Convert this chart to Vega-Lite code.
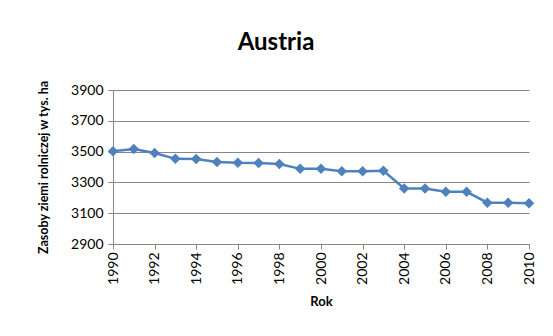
{
  "$schema": "https://vega.github.io/schema/vega-lite/v6.json",
  "autosize": "none",
  "width": 416,
  "height": 154,
  "padding": {"left": 113, "top": 90, "right": 24, "bottom": 92},
  "background": "white",
  "title": {
    "text": "Austria",
    "font": "Lato",
    "fontSize": 24,
    "fontWeight": "bold",
    "color": "black",
    "anchor": "middle",
    "dx": -45,
    "offset": 25
  },
  "data": {
    "values": [
      {"rok": 1990, "zasoby": 3503},
      {"rok": 1991, "zasoby": 3517},
      {"rok": 1992, "zasoby": 3491},
      {"rok": 1993, "zasoby": 3453},
      {"rok": 1994, "zasoby": 3452},
      {"rok": 1995, "zasoby": 3432},
      {"rok": 1996, "zasoby": 3427},
      {"rok": 1997, "zasoby": 3426},
      {"rok": 1998, "zasoby": 3420},
      {"rok": 1999, "zasoby": 3388},
      {"rok": 2000, "zasoby": 3388},
      {"rok": 2001, "zasoby": 3373},
      {"rok": 2002, "zasoby": 3373},
      {"rok": 2003, "zasoby": 3375},
      {"rok": 2004, "zasoby": 3260},
      {"rok": 2005, "zasoby": 3260},
      {"rok": 2006, "zasoby": 3239},
      {"rok": 2007, "zasoby": 3239},
      {"rok": 2008, "zasoby": 3168},
      {"rok": 2009, "zasoby": 3168},
      {"rok": 2010, "zasoby": 3164}
    ]
  },
  "encoding": {
    "x": {
      "field": "rok",
      "type": "quantitative",
      "scale": {"domain": [1990, 2010], "nice": false, "zero": false},
      "axis": {
        "title": "Rok",
        "values": [1990, 1992, 1994, 1996, 1998, 2000, 2002, 2004, 2006, 2008, 2010],
        "format": "d",
        "labelAngle": -90,
        "labelAlign": "right",
        "labelBaseline": "middle",
        "grid": false,
        "domainColor": "#868686",
        "tickColor": "#868686",
        "tickSize": 5,
        "labelPadding": 3,
        "titlePadding": 11,
        "titleFontSize": 13
      }
    },
    "y": {
      "field": "zasoby",
      "type": "quantitative",
      "scale": {"domain": [2900, 3900], "nice": false, "zero": false},
      "axis": {
        "title": "Zasoby ziemi rolniczej w tys. ha",
        "values": [2900, 3100, 3300, 3500, 3700, 3900],
        "format": "d",
        "grid": true,
        "gridColor": "#868686",
        "gridWidth": 1,
        "domainColor": "#868686",
        "tickColor": "#868686",
        "tickSize": 5,
        "labelPadding": 5,
        "titlePadding": 20,
        "titleFontSize": 12.5
      }
    }
  },
  "layer": [
    {
      "mark": {"type": "line", "color": "#4F81BD", "strokeWidth": 2.5}
    },
    {
      "mark": {"type": "point", "shape": "diamond", "filled": true, "color": "#4F81BD", "opacity": 1, "size": 110}
    }
  ],
  "config": {
    "view": {"stroke": null},
    "axis": {
      "labelFont": "Lato",
      "labelFontSize": 14,
      "labelColor": "black",
      "titleFont": "Lato",
      "titleFontWeight": "bold",
      "titleColor": "black"
    }
  }
}
